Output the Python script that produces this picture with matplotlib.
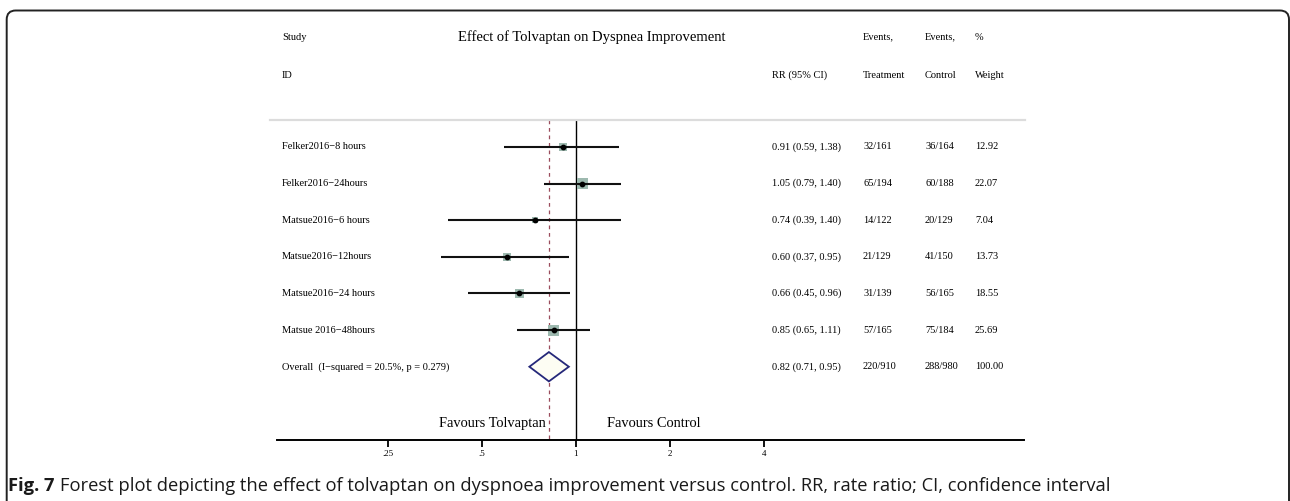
"""Forest plot: effect of tolvaptan on dyspnea improvement."""
import matplotlib

matplotlib.use("Agg")
import matplotlib.pyplot as plt
import matplotlib.transforms as mtransforms
from matplotlib.patches import FancyBboxPatch, Polygon
import numpy as np

# ---- data -------------------------------------------------------------
studies = [
    "Felker2016\u22128 hours",
    "Felker2016\u221224hours",
    "Matsue2016\u22126 hours",
    "Matsue2016\u221212hours",
    "Matsue2016\u221224 hours",
    "Matsue 2016\u221248hours",
]
rr = [0.91, 1.05, 0.74, 0.60, 0.66, 0.85]
ci_low = [0.59, 0.79, 0.39, 0.37, 0.45, 0.65]
ci_high = [1.38, 1.40, 1.40, 0.95, 0.96, 1.11]
events_treatment = ["32/161", "65/194", "14/122", "21/129", "31/139", "57/165"]
events_control = ["36/164", "60/188", "20/129", "41/150", "56/165", "75/184"]
weights = [12.92, 22.07, 7.04, 13.73, 18.55, 25.69]

overall_label = "Overall  (I\u2212squared = 20.5%, p = 0.279)"
overall_rr = 0.82
overall_low = 0.71
overall_high = 0.95
overall_treatment = "220/910"
overall_control = "288/980"
overall_weight = "100.00"

xticks = [0.25, 0.5, 1, 2, 4]
xtick_labels = [".25", ".5", "1", "2", "4"]

caption_bold = "Fig. 7"
caption_text = ("Forest plot depicting the effect of tolvaptan on dyspnoea improvement "
                "versus control. RR, rate ratio; CI, confidence interval")

# ---- figure -----------------------------------------------------------
W, H = 1290, 501
fig = plt.figure(figsize=(W / 100, H / 100), dpi=100)
serif = "Liberation Serif"
small = 7.5

ax = fig.add_axes([277 / W, (H - 440) / H, 747 / W, (440 - 18.7) / H])
ax.set_xscale("log", base=2)
ax.set_xlim(2 ** -3.18, 2 ** 4.77)
ax.set_ylim(8, -3.5)
for side in ("left", "right", "top"):
    ax.spines[side].set_visible(False)
ax.spines["bottom"].set_linewidth(1.4)
ax.set_yticks([])
ax.set_xticks(xticks)
ax.set_xticklabels(xtick_labels, fontfamily=serif, fontsize=6.5)
ax.xaxis.set_minor_locator(matplotlib.ticker.NullLocator())
ax.tick_params(axis="x", direction="out", length=5, width=1.3, pad=2)

# column x positions in figure pixels, y in row units
col = mtransforms.blended_transform_factory(fig.transFigure, ax.transData)


def px(x):
    return x / W


# header
ax.text(px(592), -3.0, "Effect of Tolvaptan on Dyspnea Improvement", transform=col,
        ha="center", va="center", fontfamily=serif, fontsize=10.5)
hdr = dict(transform=col, va="center", fontfamily=serif, fontsize=small)
ax.text(px(282), -3.0, "Study", **hdr)
ax.text(px(282), -1.96, "ID", **hdr)
ax.text(px(772), -1.96, "RR (95% CI)", **hdr)
ax.text(px(863), -3.0, "Events,", **hdr)
ax.text(px(863), -1.96, "Treatment", **hdr)
ax.text(px(925), -3.0, "Events,", **hdr)
ax.text(px(925), -1.96, "Control", **hdr)
ax.text(px(975), -3.0, "%", **hdr)
ax.text(px(975), -1.96, "Weight", **hdr)
ax.plot([px(270), px(1025)], [-0.74, -0.74], transform=col, color="#dcdcdc", lw=1.6,
        clip_on=False)

# reference lines
ax.plot([1, 1], [-0.74, 8], color="black", lw=1.0, zorder=1)
ax.plot([overall_rr, overall_rr], [-0.74, 8], color="#9b4d5d", lw=0.9,
        ls=(0, (3, 3)), zorder=1)

# studies
rows = np.arange(len(studies))
side_pt = 11 * np.sqrt(np.array(weights) / max(weights)) * 0.72
ax.scatter(rr, rows, marker="s", s=side_pt ** 2, color="#9db9af", edgecolors="none",
           zorder=2)
ax.hlines(rows, ci_low, ci_high, color="#111111", lw=1.5, zorder=3)
ax.scatter(rr, rows, marker="o", s=10, color="black", zorder=4)

row_kw = dict(transform=col, va="center", fontfamily=serif, fontsize=small)
for i in rows:
    ax.text(px(282), i, studies[i], **row_kw)
    ax.text(px(772), i, f"{rr[i]:.2f} ({ci_low[i]:.2f}, {ci_high[i]:.2f})", **row_kw)
    ax.text(px(863), i, events_treatment[i], **row_kw)
    ax.text(px(925), i, events_control[i], **row_kw)
    ax.text(px(975), i, f"{weights[i]:.2f}", **row_kw)

# overall diamond
yo = len(studies)
diamond = Polygon(
    [(overall_low, yo), (overall_rr, yo - 0.4), (overall_high, yo), (overall_rr, yo + 0.4)],
    closed=True, facecolor="#fdfdf3", edgecolor="#25287a", lw=1.3, zorder=3)
ax.add_patch(diamond)
ax.text(px(282), yo, overall_label, **row_kw)
ax.text(px(772), yo, f"{overall_rr:.2f} ({overall_low:.2f}, {overall_high:.2f})", **row_kw)
ax.text(px(863), yo, overall_treatment, **row_kw)
ax.text(px(925), yo, overall_control, **row_kw)
ax.text(px(975), yo, overall_weight, **row_kw)

# favours labels
fav = dict(va="center", fontfamily=serif, fontsize=10.4)
ax.text(px(546), 7.55, "Favours Tolvaptan", transform=col, ha="right", **fav)
ax.text(px(607), 7.55, "Favours Control", transform=col, ha="left", **fav)

# frame around the figure panel
frame = FancyBboxPatch((0.067, -0.5), (1289 - 6.7) / 100, 4.905 + 0.5,
                       boxstyle="round,pad=0,rounding_size=0.09",
                       transform=fig.dpi_scale_trans, fill=False, lw=1.4,
                       edgecolor="#222222")
fig.add_artist(frame)

# caption
cap = fig.text(8 / W, (H - 491) / H, caption_bold, fontfamily="Open Sans",
               fontweight="bold", fontsize=13.2, va="baseline", color="#1a1a1a")
ax.annotate(caption_text, xy=(1, 0), xycoords=cap, xytext=(4, 0),
            textcoords="offset points", va="bottom", ha="left",
            fontfamily="Open Sans", fontsize=13.2, color="#1a1a1a",
            annotation_clip=False)

fig.savefig("out.png", dpi=100)
